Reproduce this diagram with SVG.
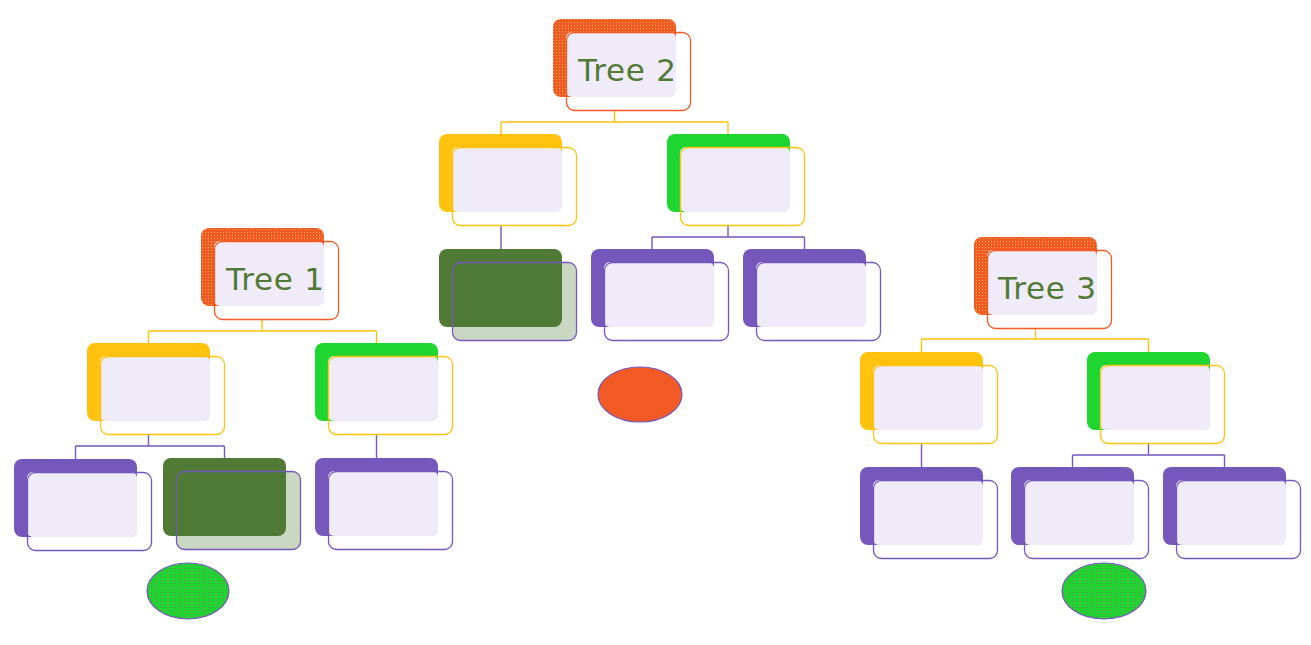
<svg xmlns="http://www.w3.org/2000/svg" width="1311" height="645" viewBox="0 0 1311 645">
<defs>
<style>
.back{stroke:none}
.or{fill:url(#orDots)}
.ye{fill:#FFC20E}
.gr{fill:#1ED62F}
.pu{fill:#7657BB}
.dg{fill:#507A35}
.lav{fill:#F0EBF8;stroke:none}
.fo{fill:none;stroke:#F15A24;stroke-width:1.3}
.fy{fill:none;stroke:#FFC20E;stroke-width:1.3}
.fp{fill:none;stroke:#7657BB;stroke-width:1.3}
.fdg{fill:#507A35;fill-opacity:0.3;stroke:#7657BB;stroke-width:1.3}
.cy{fill:none;stroke:#FFC20E;stroke-width:1.4}
.cp{fill:none;stroke:#7657BB;stroke-width:1.4}
.lbl{font-family:"DejaVu Sans",sans-serif;font-size:31px;fill:#507A35}
.ell{stroke:#7657BB;stroke-width:1.2}
</style>
<pattern id="orDots" width="3" height="3" patternUnits="userSpaceOnUse">
<rect width="3" height="3" fill="#F15A24"/>
<rect x="1" y="1" width="1" height="1" fill="#F5B03A"/>
</pattern>
<pattern id="grDots" width="3" height="3" patternUnits="userSpaceOnUse">
<rect width="3" height="3" fill="#1ED62F"/>
<rect x="1" y="1" width="1" height="1" fill="#6E8C5A"/>
</pattern>
</defs>
<rect width="1311" height="645" fill="#FFFFFF"/>

<g id="connectors">
<path class="cy" d="M614.5,110 V122 M501,122 H728 M501,122 V134 M728,122 V134"/>
<path class="cp" d="M501,226 V249"/>
<path class="cp" d="M728,226 V237 M652,237 H804.5 M652,237 V249 M804.5,237 V249"/>
<path class="cy" d="M262,319 V331 M148.5,331 H376.5 M148.5,331 V343 M376.5,331 V343"/>
<path class="cp" d="M148.5,434 V446 M75.5,446 H224.5 M75.5,446 V459 M224.5,446 V459"/>
<path class="cp" d="M376.5,434 V459"/>
<path class="cy" d="M1035.5,328 V339 M921.5,339 H1148.5 M921.5,339 V352 M1148.5,339 V352"/>
<path class="cp" d="M921.5,443 V467"/>
<path class="cp" d="M1148.5,443 V455 M1072.5,455 H1224.5 M1072.5,455 V467 M1224.5,455 V467"/>
</g>

<g id="tree2">
<rect class="back or" x="553" y="19" width="123" height="78" rx="8"/>
<rect class="lav" x="566" y="32" width="110" height="65" rx="6"/>
<rect class="fo" x="566.5" y="32.5" width="124" height="78" rx="8"/>
<text class="lbl" x="578" y="81" textLength="98" lengthAdjust="spacing">Tree 2</text>
</g>
<g id="tree2-left">
<rect class="back ye" x="439" y="134" width="123" height="78" rx="8"/>
<rect class="lav" x="452" y="147" width="110" height="65" rx="6"/>
<rect class="fy" x="452.5" y="147.5" width="124" height="78" rx="8"/>
</g>
<g id="tree2-right">
<rect class="back gr" x="667" y="134" width="123" height="78" rx="8"/>
<rect class="lav" x="680" y="147" width="110" height="65" rx="6"/>
<rect class="fy" x="680.5" y="147.5" width="124" height="78" rx="8"/>
</g>
<g id="tree2-left-child">
<rect class="back dg" x="439" y="249" width="123" height="78" rx="8"/>
<rect class="fdg" x="452.5" y="262.5" width="124" height="78" rx="8"/>
</g>
<g id="tree2-right-child1">
<rect class="back pu" x="591" y="249" width="123" height="78" rx="8"/>
<rect class="lav" x="604" y="262" width="110" height="65" rx="6"/>
<rect class="fp" x="604.5" y="262.5" width="124" height="78" rx="8"/>
</g>
<g id="tree2-right-child2">
<rect class="back pu" x="743" y="249" width="123" height="78" rx="8"/>
<rect class="lav" x="756" y="262" width="110" height="65" rx="6"/>
<rect class="fp" x="756.5" y="262.5" width="124" height="78" rx="8"/>
</g>
<g id="ellipse-orange">
<ellipse class="ell" cx="640" cy="394.5" rx="42" ry="27.5" fill="#F15A24"/>
</g>

<g id="tree1">
<rect class="back or" x="201" y="228" width="123" height="78" rx="8"/>
<rect class="lav" x="214" y="241" width="110" height="65" rx="6"/>
<rect class="fo" x="214.5" y="241.5" width="124" height="78" rx="8"/>
<text class="lbl" x="226" y="290" textLength="98" lengthAdjust="spacing">Tree 1</text>
</g>
<g id="tree1-left">
<rect class="back ye" x="87" y="343" width="123" height="78" rx="8"/>
<rect class="lav" x="100" y="356" width="110" height="65" rx="6"/>
<rect class="fy" x="100.5" y="356.5" width="124" height="78" rx="8"/>
</g>
<g id="tree1-right">
<rect class="back gr" x="315" y="343" width="123" height="78" rx="8"/>
<rect class="lav" x="328" y="356" width="110" height="65" rx="6"/>
<rect class="fy" x="328.5" y="356.5" width="124" height="78" rx="8"/>
</g>
<g id="tree1-left-child1">
<rect class="back pu" x="14" y="459" width="123" height="78" rx="8"/>
<rect class="lav" x="27" y="472" width="110" height="65" rx="6"/>
<rect class="fp" x="27.5" y="472.5" width="124" height="78" rx="8"/>
</g>
<g id="tree1-left-child2">
<rect class="back dg" x="163" y="458" width="123" height="78" rx="8"/>
<rect class="fdg" x="176.5" y="471.5" width="124" height="78" rx="8"/>
</g>
<g id="tree1-right-child">
<rect class="back pu" x="315" y="458" width="123" height="78" rx="8"/>
<rect class="lav" x="328" y="471" width="110" height="65" rx="6"/>
<rect class="fp" x="328.5" y="471.5" width="124" height="78" rx="8"/>
</g>
<g id="ellipse-green-1">
<ellipse class="ell" cx="188" cy="591" rx="41" ry="28" fill="url(#grDots)"/>
</g>

<g id="tree3">
<rect class="back or" x="974" y="237" width="123" height="78" rx="8"/>
<rect class="lav" x="987" y="250" width="110" height="65" rx="6"/>
<rect class="fo" x="987.5" y="250.5" width="124" height="78" rx="8"/>
<text class="lbl" x="998" y="299" textLength="98" lengthAdjust="spacing">Tree 3</text>
</g>
<g id="tree3-left">
<rect class="back ye" x="860" y="352" width="123" height="78" rx="8"/>
<rect class="lav" x="873" y="365" width="110" height="65" rx="6"/>
<rect class="fy" x="873.5" y="365.5" width="124" height="78" rx="8"/>
</g>
<g id="tree3-right">
<rect class="back gr" x="1087" y="352" width="123" height="78" rx="8"/>
<rect class="lav" x="1100" y="365" width="110" height="65" rx="6"/>
<rect class="fy" x="1100.5" y="365.5" width="124" height="78" rx="8"/>
</g>
<g id="tree3-left-child">
<rect class="back pu" x="860" y="467" width="123" height="78" rx="8"/>
<rect class="lav" x="873" y="480" width="110" height="65" rx="6"/>
<rect class="fp" x="873.5" y="480.5" width="124" height="78" rx="8"/>
</g>
<g id="tree3-right-child1">
<rect class="back pu" x="1011" y="467" width="123" height="78" rx="8"/>
<rect class="lav" x="1024" y="480" width="110" height="65" rx="6"/>
<rect class="fp" x="1024.5" y="480.5" width="124" height="78" rx="8"/>
</g>
<g id="tree3-right-child2">
<rect class="back pu" x="1163" y="467" width="123" height="78" rx="8"/>
<rect class="lav" x="1176" y="480" width="110" height="65" rx="6"/>
<rect class="fp" x="1176.5" y="480.5" width="124" height="78" rx="8"/>
</g>
<g id="ellipse-green-2">
<ellipse class="ell" cx="1104" cy="591" rx="42" ry="28" fill="url(#grDots)"/>
</g>
</svg>
